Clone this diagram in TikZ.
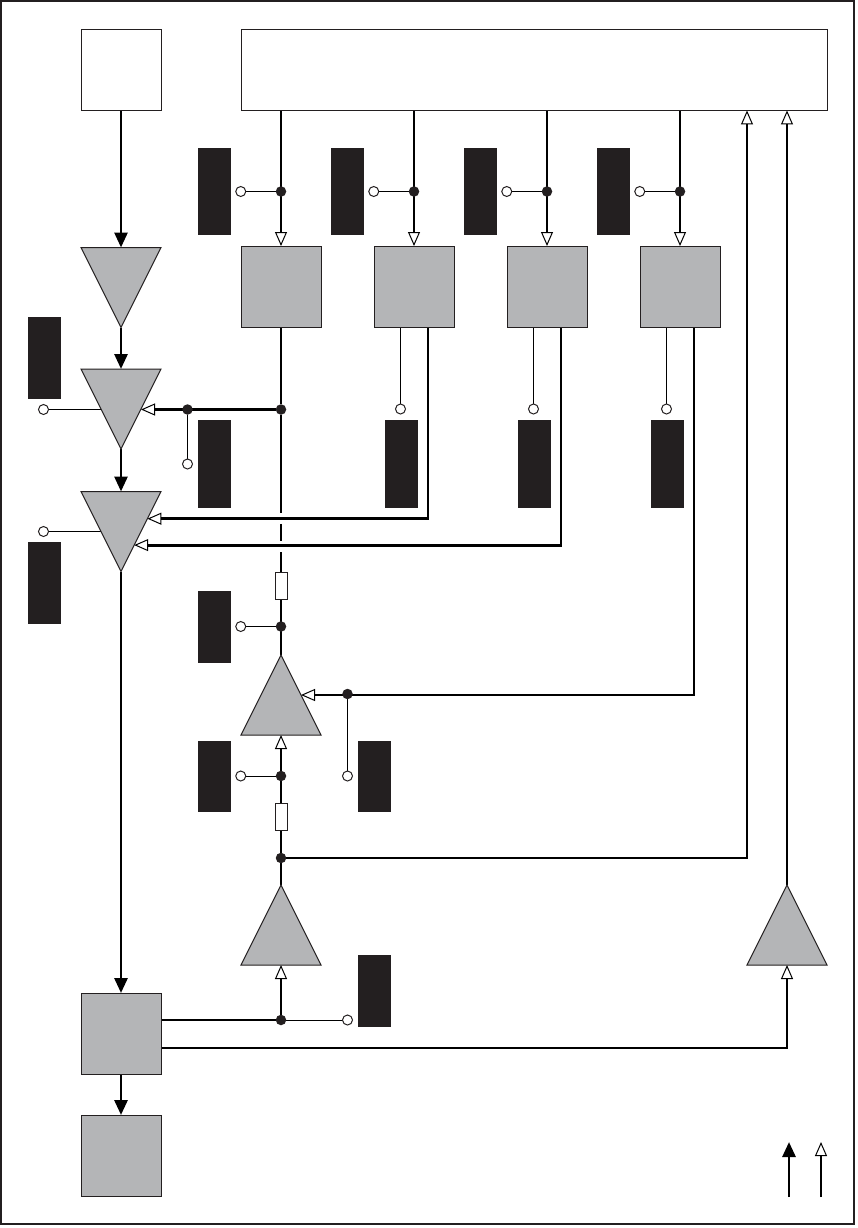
\documentclass[tikz,border=0pt]{standalone}
\usepackage{xcolor}
\usetikzlibrary{arrows.meta,positioning,shapes.geometric,backgrounds,calc}
\definecolor{inkblk}{HTML}{231F20}
\definecolor{midgray}{HTML}{B4B5B7}

\begin{document}
\begin{tikzpicture}[x=1pt,y=-1pt,inkblk,
  solid tip/.tip={Triangle[length=15pt,width=13pt]},
  open tip/.tip={Triangle[fill=white,length=14pt,width=12pt,line width=1pt]},
  wbox/.style={draw,line width=1pt,fill=white,minimum height=81pt,inner sep=0,outer sep=0},
  gbox/.style={draw,line width=1pt,fill=midgray,minimum width=80pt,minimum height=81pt,inner sep=0,outer sep=0},
  tridn/.style={draw,line width=1pt,fill=midgray,isosceles triangle,isosceles triangle stretches,shape border rotate=-90,minimum width=80pt,minimum height=80pt,inner sep=0,outer sep=0,anchor=apex},
  triup/.style={tridn,shape border rotate=90},
  lab/.style={fill=inkblk,minimum width=33pt,inner sep=0,outer sep=0},
  res/.style={draw,line width=1pt,fill=white,minimum width=12pt,minimum height=27pt,inner sep=0,outer sep=0},
  dot/.style={circle,fill=inkblk,minimum size=10.5pt,inner sep=0,outer sep=0},
  pin/.style={circle,draw,line width=1pt,fill=white,minimum size=10pt,inner sep=0,outer sep=0},
  a/.style={line width=2.8pt},
  b/.style={line width=1pt},
  c/.style={line width=2pt}]
  \useasboundingbox (0,0) rectangle (857,1228);
  \node[draw,line width=2pt,minimum width=852.5pt,minimum height=1223pt,inner sep=0] (frame) at (427.25,612.5) {};

  % top row
  \node[wbox,minimum width=80pt] (src) at (121,70) {};
  \node[wbox,minimum width=586pt] (bus) at (534,70) {};
  \node[gbox] (mem1) at (281,286.5) {};
  \node[gbox,right=53pt of mem1] (mem2) {};
  \node[gbox,right=53pt of mem2] (mem3) {};
  \node[gbox,right=53pt of mem3] (mem4) {};
  \foreach \i in {1,...,4} {
    \node[dot] (sel\i) at (mem\i |- 0,191.5) {};
    \node[pin,left=30pt of sel\i] (selp\i) {};
    \node[lab,minimum height=87pt,left=5pt of selp\i] (sell\i) {};
  }
  \node[pin] (outp2) at ($(mem2.south)+(-13.5,82)$) {};
  \node[pin] (outp3) at ($(mem3.south)+(-13.5,82)$) {};
  \node[pin] (outp4) at ($(mem4.south)+(-13.5,82)$) {};
  \node[lab,minimum height=88pt] (outl2) at (401.5,464) {};
  \node[lab,minimum height=88pt,right=100pt of outl2] (outl3) {};
  \node[lab,minimum height=88pt,right=100pt of outl3] (outl4) {};

  % left column
  \node[tridn] (amp1) at (121,327.5) {};
  \node[tridn] (amp2) at (121,449) {};
  \node[tridn] (amp3) at (121,571.5) {};
  \node[pin] (pin2) at (43.5,409.5) {};
  \node[pin] (pin3) at (43.5,531.5) {};
  \node[lab,minimum height=82pt] (lab2) at (44.5,358) {};
  \node[lab,minimum height=82pt] (lab3) at (44.5,583) {};
  \node[gbox,minimum height=81pt] (dac) at (121,1033.5) {};
  \node[gbox,below=41pt of dac] (out) {};

  % feedback junction
  \node[dot] (j1) at (281,409.5) {};
  \node[dot] (j2) at (187.5,409.5) {};
  \node[pin] (p2) at (187.5,464) {};
  \node[lab,minimum height=88pt] (l2) at (214.5,464) {};

  % lower stack
  \node[res] (r1) at (281,586) {};
  \node[dot] (j3) at (281,626.5) {};
  \node[pin,left=30pt of j3] (p3) {};
  \node[lab,minimum height=72pt] (l3) at (214.5,627) {};
  \node[triup] (amp4) at (281,655) {};
  \node[dot] (j4) at (347.5,694) {};
  \node[pin] (p4) at (347.5,776) {};
  \node[lab,minimum height=71pt] (l4) at (374.5,776.5) {};
  \node[dot] (j5) at (281,776) {};
  \node[pin,left=30pt of j5] (p5) {};
  \node[lab,minimum height=71pt] (l5) at (214.5,776.5) {};
  \node[res] (r2) at (281,817) {};
  \node[dot] (j6) at (281,858) {};
  \node[triup] (amp5) at (281,885) {};
  \node[dot] (j7) at (281,1020) {};
  \node[pin] (p7) at (347.5,1020) {};
  \node[lab,minimum height=72pt] (l7) at (374.5,991) {};
  \node[triup] (amp6) at (787,885) {};

  % legend
  \coordinate (k1) at (789,1197);
  \coordinate (k2) at (821,1197);
  \coordinate (k1t) at (789,1142);
  \coordinate (k2t) at (821,1142);
  \coordinate (fb) at ($(bus.south east)+(-80,0)$);

  \begin{scope}[on background layer]
    \draw[a,-solid tip] (src) -- (amp1.north);
    \draw[a,-solid tip] (amp1.apex) -- (amp2.north);
    \draw[a,-solid tip] (amp2.apex) -- (amp3.north);
    \draw[a,-solid tip] (amp3.apex) -- (dac);
    \draw[a,-solid tip] (dac) -- (out);
    \foreach \i in {1,...,4} {
      \draw[a,-open tip] (sel\i |- bus.south) -- (mem\i.north);
      \draw[b] (selp\i) -- (sel\i);
    }
    \draw[b] (mem2.south -| outp2) -- (outp2);
    \draw[b] (mem3.south -| outp3) -- (outp3);
    \draw[b] (mem4.south -| outp4) -- (outp4);
    \draw[a] (mem1) -- (j1);
    \draw[a,-open tip] (j1) -- (j1 -| amp2.left side);
    \draw[b] (pin2) -- (pin2 -| amp2.right side);
    \draw[b] (pin3) -- ($(amp3.right corner)!0.5!(amp3.apex)$);
    \draw[b] (j2) -- (p2);
    \draw[a,-open tip] ($(mem2.south)+(14,0)$) |- ($(amp3.left corner)!0.34!(amp3.apex)$);
    \draw[a,-open tip] ($(mem3.south)+(14,0)$) |- ($(amp3.left corner)!0.67!(amp3.apex)$);
    \draw[a,dash pattern=on 98.5pt off 10.6pt on 16.7pt off 11.7pt on 40pt] (j1) -- (r1);
    \draw[a] (amp4.apex) -- (r1);
    \draw[a,-open tip] ($(mem4.south)+(14,0)$) |- ($(amp4.right corner)!0.5!(amp4.apex)$);
    \draw[b] (j4) -- (p4);
    \draw[b] (p3) -- (j3);
    \draw[b] (p5) -- (j5);
    \draw[a,-open tip] (r2) -- (amp4.south);
    \draw[a] (amp5.apex) -- (r2);
    \draw[a,-open tip] (j6) -| (fb);
    \draw[a,-open tip] (amp6.apex) -- (amp6.apex |- bus.south);
    \draw[a,-open tip] (j7) -- (amp5.south);
    \draw[a] (dac.east |- j7) -- (j7);
    \draw[b] (j7) -- (p7);
    \draw[c,-open tip] ($(dac.east)+(0,14.5)$) -| (amp6.south);
    \draw[a,-solid tip] (k1) -- (k1t);
    \draw[a,-open tip] (k2) -- (k2t);
  \end{scope}
\end{tikzpicture}
\end{document}
